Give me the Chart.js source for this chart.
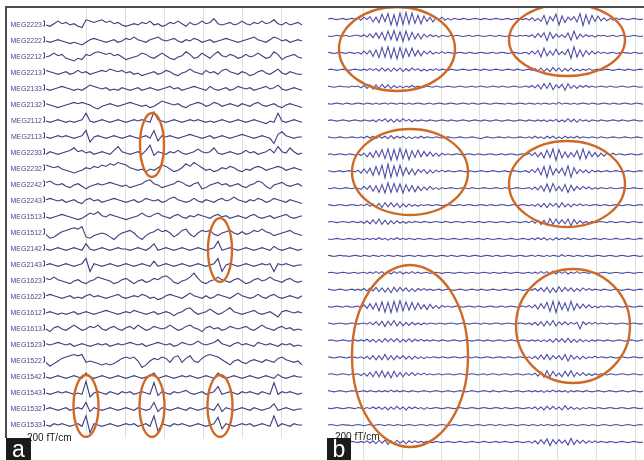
<!DOCTYPE html>
<html>
<head>
<meta charset="utf-8">
<script src="https://cdn.jsdelivr.net/npm/chart.js@4.4.1/dist/chart.umd.min.js"></script>
<style>
  body { margin: 0; background: #fff; }
  #wrap { position: relative; width: 644px; height: 460px; overflow: hidden; background: #fff; }
  #wrap canvas { position: absolute; }
  .rule { position: absolute; background: #4b4b4b; }
  .scaleTxt { position: absolute; font: 10px "Liberation Sans", Arial, sans-serif; color: #222; white-space: nowrap; z-index: 1; }
  .tag { position: absolute; background: #1b1b1b; color: #fff; font: 23px "Liberation Sans", Arial, sans-serif;
         text-align: center; line-height: 22px; z-index: 2; }
</style>
</head>
<body>
<div id="wrap">
  <canvas id="chartA" width="323" height="430" style="left:0;top:8px"></canvas>
  <canvas id="chartB" width="319" height="452" style="left:325px;top:8px"></canvas>
  <div class="rule" style="left:5px;top:6px;width:639px;height:2px"></div>
  <div class="rule" style="left:5px;top:6px;width:2px;height:432px"></div>
  <div class="scaleTxt" style="left:27px;top:432px">200 fT/cm</div>
  <div class="scaleTxt" style="left:335px;top:431px">200 fT/cm</div>
  <div class="tag" style="left:6px;top:438px;width:25px;height:22px">a</div>
  <div class="tag" style="left:327px;top:438px;width:24px;height:22px">b</div>
</div>
<script>
// panel a: interictal spikes, one value per 4 px, in px (up = positive)
var MEG2223 = [0,-1,1,3,1,2,0,1,-1,-2, 4,3,2,3,4,2,3,1,2,0, -1,0,1,0,2,1,3,0,1,-1, 0,2,1,3,1,-1,2,0,1,3, 1,2,5,1,0,1,2,0,1,3, 1,0,2,1,3,1,2,4,1,0, 2,0,1,2,0]
var MEG2222 = [0,-1,0,1,0,-1,-2,-1,-2,-3, -1,1,2,1,0,-1,0,1,-1,0, 2,1,3,1,0,-1,1,2,3,1, 0,1,2,0,-1,1,0,2,1,-1, 0,1,-1,0,1,2,1,0,-1,0, 1,2,3,1,0,-1,1,3,2,0, 1,-1,0,1,0]
var MEG2212 = [0,1,3,1,2,-1,-2,-3,-1,-2, 2,1,3,4,3,2,3,1,2,0, -2,-1,0,1,3,2,0,-1,1,3, 1,-1,-2,0,1,4,2,-1,0,3, 1,-1,2,4,1,0,2,1,-1,0, 2,0,1,3,1,-1,0,4,2,-2, 0,1,2,0,-1]
var MEG2213 = [2,1,0,-1,0,1,-1,0,2,0, 1,-1,0,1,2,1,3,2,1,2, 0,1,-1,0,-2,-1,0,1,-1,0, 2,1,-1,-2,0,1,3,1,0,-1, 2,0,1,-1,2,3,1,0,-1,1, 0,-2,-1,1,2,0,-1,1,3,0, -1,1,0,-1,-1]
var MEG2133 = [0,-1,0,1,2,1,0,-1,0,-1, 1,3,2,1,0,1,-1,0,-1,1, 0,-1,0,1,-1,0,1,0,-1,0, 1,2,0,1,-1,0,1,2,1,0, -1,2,0,-1,0,1,-1,0,2,1, 0,1,-1,0,1,2,0,1,3,0, -1,0,1,0,-1]
var MEG2132 = [1,0,-1,-2,-1,0,1,2,1,2, 1,0,-2,-3,-1,0,1,0,-1,0, 1,2,1,0,-1,0,-2,-1,1,3, 2,1,0,1,-1,-2,0,1,2,1, -1,0,2,1,-1,0,1,0,-1,1, 0,-1,1,2,0,-1,0,1,-1,-2, 0,1,0,-1,-2]
var MEG2112 = [0,-1,0,1,0,-1,0,-1,0,1, 6,0,-1,0,1,0,-1,0,1,0, -1,0,1,0,1,0,-1,7,1,0, -1,0,1,0,-1,0,1,0,1,0, -1,0,-1,0,1,0,-1,0,1,0, -1,0,1,0,-1,-2,0,-1,6,0, -1,0,1,0,-1]
var MEG2113 = [0,-1,0,1,0,1,0,-1,0,1, 5,-4,0,1,0,-1,0,1,0,-1, 0,1,0,-1,0,1,-1,5,-3,1, 0,1,0,-1,0,1,2,1,0,-1, 0,1,-1,0,1,0,-1,0,1,2, 1,0,-1,0,1,0,-1,-5,2,4, 1,0,-1,0,0]
var MEG2233 = [-1,1,0,-1,0,1,2,4,1,2, 0,1,-1,0,1,0,-1,2,5,1, 0,-1,0,1,-1,2,6,-2,1,0, -1,1,0,2,0,-1,0,1,3,1, 0,1,4,0,-1,0,1,0,-1,0, 2,0,1,-1,0,1,3,0,5,1, 0,4,1,-1,0]
var MEG2232 = [3,2,1,2,0,-1,-2,-3,-2,-1, 1,0,2,1,3,2,4,3,5,4, 3,1,0,-1,0,-2,0,-1,1,3, 2,0,-2,-1,1,4,2,5,3,1, -1,0,-2,-1,1,0,2,1,-1,-2, 0,-1,1,2,1,-1,0,1,2,1, -1,0,1,0,-1]
var MEG2242 = [2,3,1,0,1,-1,-2,0,1,-1, -3,-1,0,1,0,1,2,1,0,-1, 0,-2,-1,0,1,3,4,1,0,-2, -1,0,1,3,2,0,-1,1,2,-3, -2,0,1,2,0,1,-1,0,1,-1, -2,0,1,3,2,-1,-3,0,1,2, 0,-1,0,1,-1]
var MEG2243 = [1,2,1,0,1,-1,0,1,-1,-2, 1,2,0,1,-1,0,1,2,1,0, -1,0,1,-1,0,2,1,0,1,-1, 0,2,3,1,0,-1,0,2,0,-1, 1,0,-1,1,2,0,1,3,1,0, -1,1,0,2,1,-1,0,2,1,0, -1,1,0,-1,-2]
var MEG1513 = [0,-1,0,1,2,1,0,-1,-2,-1, 1,3,2,4,1,0,2,1,0,-1, -2,-1,0,1,3,1,0,2,3,1, 0,-1,1,2,0,-1,1,0,2,1, 0,-1,1,2,0,1,-1,0,1,0, -1,1,2,0,-1,0,1,-1,0,1, 2,0,-1,0,1]
var MEG1512 = [-1,-4,-3,-1,1,2,3,4,3,5, -3,-4,-2,-1,0,-1,-3,-5,-2,0, 1,2,0,-3,-5,-2,0,1,3,1, 2,0,-3,-1,2,3,-1,-3,0,2, 1,2,-1,-2,0,1,2,0,-1,1, -1,0,2,1,3,1,0,-2,-1,0, 1,2,0,-1,-2]
var MEG2142 = [0,-1,0,1,0,-1,0,1,0,-1, 4,0,-1,0,1,0,-1,0,1,0, 0,-1,0,1,0,-1,1,4,-1,0, 1,0,-1,0,1,0,-1,0,1,0, -1,0,1,6,-1,0,1,0,-1,0, 1,0,-1,0,1,0,-1,2,0,-1, 0,1,0,-1,0]
var MEG2143 = [0,1,0,-1,0,1,0,-1,0,1, 5,-5,1,0,-1,0,1,0,-1,0, 1,0,-1,0,1,0,-1,3,-1,0, 1,0,-1,0,1,0,-1,0,1,0, -1,0,1,5,-5,0,1,0,-1,0, 1,0,-1,0,1,0,1,-5,1,0, 1,0,-1,0,0]
var MEG1623 = [2,1,3,1,0,-1,-2,0,1,-1, -2,0,1,3,2,1,0,-2,-1,1, 2,0,-2,0,1,-1,0,2,1,3, 4,2,-1,-2,0,1,3,6,2,-1, -2,0,1,3,1,0,-1,1,2,0, -2,-1,1,2,0,1,3,1,0,-1, 1,2,0,-1,0]
var MEG1622 = [1,2,1,0,-1,0,1,-1,0,-1, 1,2,0,1,0,-1,0,1,2,0, -1,0,1,0,2,1,-1,0,-2,-1, 1,2,1,0,-1,1,3,1,0,-1, 1,-1,0,2,1,0,-1,1,3,1, 0,-1,0,2,0,-1,1,2,0,-1, 0,1,0,-1,1]
var MEG1612 = [0,1,0,-1,0,-1,0,1,-1,0, 1,0,-1,0,1,2,1,0,-1,0, 1,0,2,1,0,-1,0,1,-1,0, 1,0,-2,0,1,3,4,1,-1,0, 1,3,1,-1,0,2,4,1,0,-1, 0,1,2,0,-1,0,1,-1,-3,1, 2,1,0,1,0]
var MEG1613 = [0,-2,1,2,0,-1,1,3,1,-1, 0,2,1,3,0,-1,1,2,0,-1, 1,2,0,3,1,-1,0,2,1,0, 1,3,1,-1,0,2,3,1,0,-2, 1,2,0,1,-1,0,2,1,0,1, 2,0,-1,1,3,1,0,-1,1,2, 0,1,-1,0,-1]
var MEG1523 = [1,0,1,2,1,0,1,-1,0,1, 0,-1,0,1,0,1,-1,0,1,0, 1,2,1,0,1,-1,0,1,2,1, 0,1,-1,0,2,1,0,1,3,1, 0,1,2,4,1,0,-1,1,2,0, 1,0,-1,2,1,0,1,0,-1,1, 0,1,-1,0,-1]
var MEG1522 = [-1,-4,-2,0,2,3,4,5,4,5, -1,0,-1,-2,-3,-2,-3,-2,0,2, 3,2,3,0,-5,-3,0,2,1,3, 2,-1,3,4,-1,2,4,0,-1,2, 4,5,4,3,1,-1,-3,0,1,-1, -2,0,1,0,-1,1,0,-1,2,3, 1,0,-1,0,-3]
var MEG1542 = [0,-1,0,1,0,-1,0,1,0,-1, 3,0,-1,0,1,0,-1,0,1,0, -1,0,1,0,-1,0,1,3,-1,0, 1,0,-1,0,1,0,1,0,-1,0, 1,0,-1,3,0,-1,0,1,0,-1, 0,1,0,-1,0,1,0,-1,2,0, -1,0,1,0,0]
var MEG1543 = [0,-1,0,1,0,1,0,-1,0,-1, 9,-3,0,1,0,-1,1,0,-1,1, 0,1,-1,0,1,0,-1,8,-2,1, 0,-1,1,0,1,2,0,-1,0,1, -1,0,1,5,-1,0,1,0,-1,1, 0,1,0,-1,1,0,-1,8,-1,1, 0,1,0,-1,0]
var MEG1532 = [0,1,0,-1,0,1,-1,0,1,0, 5,-2,1,0,-1,0,1,0,-1,0, 1,0,-1,1,0,-1,0,5,-2,1, 0,-1,0,1,0,-1,1,0,-1,0, 1,0,-1,4,-2,1,0,-1,0,1, 0,-1,1,0,-1,0,1,4,-1,0, 1,0,-1,0,0]
var MEG1533 = [0,-1,1,0,1,0,-1,0,1,-1, 7,-6,1,0,-1,0,1,0,-1,0, 1,0,1,-1,0,1,-1,7,-5,1, 0,-1,1,0,1,0,-1,0,1,0, -1,0,1,6,-3,1,0,-1,0,1, 0,1,-1,0,1,0,-1,7,-1,1, 0,-1,1,0,0]

var channelsA = ['MEG2223','MEG2222','MEG2212','MEG2213','MEG2133','MEG2132','MEG2112','MEG2113',
  'MEG2233','MEG2232','MEG2242','MEG2243','MEG1513','MEG1512','MEG2142','MEG2143','MEG1623',
  'MEG1622','MEG1612','MEG1613','MEG1523','MEG1522','MEG1542','MEG1543','MEG1532','MEG1533']
var tracesA = [MEG2223,MEG2222,MEG2212,MEG2213,MEG2133,MEG2132,MEG2112,MEG2113,MEG2233,MEG2232,
  MEG2242,MEG2243,MEG1513,MEG1512,MEG2142,MEG2143,MEG1623,MEG1622,MEG1612,MEG1613,MEG1523,
  MEG1522,MEG1542,MEG1543,MEG1532,MEG1533]

// panel b: spindle bursts, one value per 3 px, in half px
var b01 = [0,1,0,-1,0,1,-1,0,1,0, 2,-2,3,-1,4,-5,3,-6,8,-4,9,-10,7,-11,10,-9,11,-8,10,-7,6,-8,5,-4,3,-5,2,-1,3,-2,1,-2,1, 0,-1,1,0,-1,0,1,0,-1,1,0,-1,0,1,0,-1,0,1,-1,0,1,0,-1, 1,-2,2,-3,1,-4,6,-9,4,-3,8,-10,5,-6,3,-2,4,-5,9,-11,7,-8,6,-4,5,-3,2,-3,1,-2,2,-1,1,0, -1,0,1,0,-1,0]
var b02 = [0,-1,0,1,0,0,1,-1,0,1, 1,-1,2,-2,3,-3,5,-4,6,-7,8,-6,9,-8,7,-9,8,-7,6,-5,4,-5,3,-2,2,-1,1,-2,1,0,-1,1,0, 1,0,-1,0,1,-1,0,1,0,-1,0,1,0,-1,1,0,-1,0,1,0,-1,1,0, 1,-1,2,-3,4,-2,5,-8,6,-4,3,-2,2,-3,5,-7,8,-5,3,-2,2,-1,1,-2,1,0,1,-1,0,1,-1,0,1,0, -1,0,1,0,-1,0]
var b03 = [1,0,-1,0,1,0,-1,1,0,-1, 1,-2,3,-2,4,-6,5,-8,9,-7,10,-9,8,-10,9,-8,7,-6,8,-5,4,-5,3,-2,3,-2,1,-1,2,-1,1,0,-1, 0,1,0,-1,1,0,-1,0,1,0,-1,0,1,-1,0,1,0,-1,0,1,0,-1,0, 1,-2,3,-2,4,-7,8,-5,3,-4,6,-3,2,-3,6,-9,10,-7,5,-6,4,-3,3,-2,2,-1,1,-1,0,1,-1,0,1,0, 0,-1,1,0,-1,0]
var b04 = [0,1,0,-1,0,1,0,-1,0,1, 0,-1,1,-1,2,-1,2,-2,3,-2,2,-3,3,-2,3,-3,2,-2,3,-1,2,-2,1,-2,1,-1,2,-1,1,0,-1,1,0, -1,0,1,0,-1,0,1,0,-1,1,0,-1,0,1,0,-1,0,1,0,-1,1,0,-1, 0,1,-1,2,-2,3,-3,2,-3,4,-2,3,-3,2,-2,3,-2,1,-2,1,-1,2,-1,0,1,-1,0,1,0,-1,0,1,0,-1, 1,0,-1,0,1,0]
var b05 = [1,0,-1,0,1,0,0,-1,1,0, 1,-2,2,-3,3,-4,3,-3,4,-2,3,-3,2,-2,1,-2,1,-1,2,-1,1,0,-1,1,0,-1,1,0,-1,0,1,0,-1, 0,1,0,-1,0,1,-1,0,1,0,-1,0,1,0,-1,1,0,-1,0,1,0,-1,0, 1,-1,2,-2,3,-4,5,-3,6,-5,3,-2,4,-6,5,-3,2,-3,2,-1,2,-1,1,-1,0,1,0,-1,1,0,-1,0,1,0, -1,0,1,0,-1,0]
var b06 = [0,-1,0,1,0,-1,1,0,-1,0, 1,0,-1,1,0,-1,1,-1,0,1,-1,1,0,-1,1,0,-1,1,-1,0,1,0,-1,0,1,-1,0,1,0,-1,0,1,0, -1,0,1,0,-1,1,0,-1,0,1,0,-1,0,1,0,0,-1,1,0,-1,0,1,0, -1,1,0,-1,1,-1,1,0,-1,1,-1,2,-1,1,0,-1,1,-1,0,1,0,-1,1,0,-1,0,1,0,-1,1,0,-1,0,1, 0,-1,0,1,0,-1]
var b07 = [0,1,0,-1,0,1,0,-1,0,1, 0,-1,1,0,-1,1,-2,2,-1,3,-2,2,-3,2,-2,3,-1,2,-2,1,-1,1,0,-1,1,0,-1,0,1,0,-1,1,0, -1,0,1,0,-1,0,1,0,-1,1,0,-1,0,1,0,-1,0,1,0,-1,0,1,0, -1,1,0,-1,1,-1,1,-2,1,-1,2,-2,1,-2,3,-2,2,-3,2,-1,1,-2,1,0,-1,1,0,-1,0,1,0,-1,1,0, -1,0,1,0,-1,0]
var b08 = [1,0,-1,0,1,0,-1,0,1,0, -1,1,-1,2,-1,2,-2,2,-1,2,-2,3,-2,2,-1,2,-2,1,-2,1,-1,2,-1,1,0,-1,1,0,-1,0,1,0,-1, 0,1,0,-1,0,1,0,-1,-2,0,1,0,-1,0,1,0,-1,1,0,-1,0,1,0, -1,1,-1,2,-1,1,-2,2,-1,2,-2,1,-2,2,-1,1,-1,2,-1,1,0,-1,1,0,-1,1,0,-1,0,1,0,-1,0,1, 0,-1,0,1,0,-1]
var b09 = [0,1,-1,0,1,0,-1,1,0,-1, 1,-2,2,-4,3,-5,6,-4,8,-7,9,-10,8,-9,10,-7,8,-9,6,-5,7,-4,5,-3,4,-3,2,-3,2,-1,1,-1,0, 1,0,-1,0,1,0,-1,1,0,-1,0,1,0,-1,0,1,-1,0,1,0,-1,0,1, -1,2,-2,3,-4,3,-6,7,-5,9,-10,8,-6,4,-5,3,-4,6,-8,9,-7,5,-4,3,-4,2,-3,2,-1,2,-1,1,0,-1, 0,1,0,-1,0,1]
var b10 = [1,0,-1,0,1,-1,0,1,0,-1, 2,-3,4,-3,5,-7,8,-6,10,-11,12,-10,9,-8,10,-7,6,-5,4,-6,3,-2,3,-4,2,-3,2,-1,2,-1,1,0,-1, 0,1,0,-1,1,0,-1,0,1,0,-1,0,1,0,-1,0,1,-1,0,1,0,-1,0, 1,-2,3,-2,5,-6,8,-10,9,-6,4,-3,5,-7,9,-10,6,-4,3,-2,2,-3,2,-1,1,-1,0,1,-1,0,1,0,-1,0, 1,0,-1,0,1,0]
var b11 = [0,-1,1,0,-1,0,1,0,-1,1, 0,-2,3,-2,4,-5,4,-7,6,-8,9,-7,8,-6,7,-8,6,-5,4,-6,3,-4,2,-3,3,-2,1,-2,1,-1,0,1,0, -1,0,1,0,-1,1,0,-1,0,1,0,-1,0,1,0,-1,1,0,-1,0,1,0,-1, 0,1,-2,2,-3,4,-5,7,-6,8,-4,3,-5,6,-7,5,-4,3,-2,3,-1,2,-2,1,-1,1,0,-1,1,0,-1,0,1,0, -1,0,1,0,-1,0]
var b12 = [1,0,-1,0,1,0,-1,0,1,0, -1,1,-1,2,-2,2,-3,3,-4,4,-3,4,-3,3,-4,2,-3,2,-2,1,-2,1,-1,1,0,-1,1,0,-1,0,1,0,-1, 0,1,-1,0,1,0,-1,0,1,0,-1,1,0,-1,0,1,0,-1,0,1,-1,0,1, 0,-1,1,-2,2,-3,3,-4,3,-2,3,-4,4,-3,2,-3,2,-1,2,-1,1,-1,0,1,0,-1,1,0,-1,0,1,0,-1,0, 1,0,-1,0,1,0]
var b13 = [0,1,0,-1,0,1,0,-1,1,0, -1,1,-2,2,-3,4,-3,5,-4,3,-4,2,-3,2,-2,1,-2,1,-1,1,0,-1,1,0,-1,0,1,0,-1,1,0,-1,0, 1,0,-1,0,1,0,-1,1,0,-1,0,1,0,-1,0,1,0,-1,0,1,0,-1,0, 1,-1,2,-2,3,-4,3,-5,6,-4,5,-3,4,-3,5,-6,4,-3,2,-2,1,-2,1,-1,0,1,0,-1,1,0,-1,0,1,0, -1,0,1,0,-1,0]
var b14 = [0,-1,0,1,0,-1,0,1,0,-1, 1,0,-1,1,-1,1,-1,2,-1,1,-2,1,-1,2,-1,1,-1,1,0,-1,1,0,-1,0,1,0,-1,0,1,0,-1,0,1, 0,-1,0,1,0,-1,0,1,0,-1,1,0,-1,0,1,0,-1,0,1,0,-1,0,1, 0,-1,1,-1,2,-1,2,-2,1,-2,2,-1,1,-1,2,-1,1,0,-1,1,0,-1,0,1,0,-1,1,0,-1,0,1,0,-1,0, 1,0,-1,0,1,0]
var b15 = [1,0,-1,0,1,0,0,-1,0,1, 0,-1,1,0,-1,1,0,-1,1,-1,1,0,-1,1,0,-1,0,1,0,-1,1,0,-1,0,1,0,-1,0,1,0,-1,1,0, -1,0,1,0,-1,0,1,0,-1,0,1,0,-1,1,0,-1,0,1,0,-1,0,1,0, -1,0,1,-1,1,0,-1,1,-1,1,0,-1,2,-1,1,0,-1,1,0,-1,1,0,-1,0,1,0,-1,0,1,0,-1,0,1,0, -1,0,1,0,-1,0]
var b16 = [0,1,0,-1,0,1,0,-1,0,1, -1,0,1,-1,1,-1,2,-1,2,-2,1,-2,2,-1,2,-2,1,-1,2,-1,1,-1,0,1,-1,0,1,0,-1,0,1,0,-1, 0,1,0,-1,0,1,0,-1,0,1,0,-1,1,0,-1,0,1,0,-1,0,1,0,-1, 0,1,-1,1,-1,2,-1,2,-2,3,-2,2,-1,2,-2,1,-1,2,-1,1,0,-1,1,0,-1,0,1,0,-1,0,1,0,-1,0, 1,0,-1,0,1,0]
var b17 = [1,0,-1,0,1,0,-1,0,1,-1, 1,-1,2,-2,3,-2,4,-3,3,-4,3,-5,4,-3,4,-2,3,-3,2,-3,2,-1,2,-1,1,-1,0,1,-1,0,1,0,-1, 0,1,0,-1,0,1,0,-1,1,0,-1,0,1,0,-1,0,1,0,-1,0,1,0,-1, 0,1,-1,2,-2,3,-3,4,-5,3,-4,5,-3,4,-2,3,-3,2,-2,3,-1,2,-1,1,0,-1,1,0,-1,0,1,0,-1,0, 1,0,-1,0,1,0]
var b18 = [0,-1,0,1,0,-1,1,0,-1,0, 1,-2,3,-3,5,-4,6,-7,8,-9,7,-10,9,-8,10,-7,8,-6,7,-5,6,-4,3,-5,4,-3,2,-3,2,-1,1,-1,0, 1,0,-1,0,1,0,-1,1,0,-1,0,1,0,-1,0,1,-1,0,1,0,-1,0,1, -1,2,-2,3,-4,5,-3,7,-8,9,-10,8,-5,6,-7,9,-6,5,-3,4,-2,3,-2,1,-2,1,-1,1,0,-1,1,0,-1,0, 1,0,-1,0,1,0]
var b19 = [1,0,-1,0,1,0,-1,0,1,0, -1,0,1,-1,2,-2,3,-3,4,-5,4,-3,5,-4,3,-4,2,-3,2,-2,1,-2,1,-1,1,0,-1,1,0,-1,0,1,0, -1,0,1,0,-1,0,1,0,-1,1,0,-1,0,1,0,-1,0,1,0,-1,0,1,0, -1,1,-2,2,-3,3,-4,4,-3,5,-4,3,-2,3,-2,2,-1,2,-9,3,-2,2,-1,2,-1,1,0,-1,1,0,-1,0,1,0, -1,0,1,0,-1,0]
var b20 = [0,1,0,-1,0,1,0,-1,0,1, -1,1,-1,2,-2,2,-3,2,-3,3,-2,3,-2,3,-3,2,-2,3,-2,2,-1,2,-1,1,-1,1,0,-1,1,0,-1,0,1, 0,-1,0,1,0,-1,0,1,0,-1,1,0,-1,0,1,0,-1,0,1,0,-1,0,1, 0,-1,1,-1,1,-2,1,-2,2,-3,3,-2,3,-3,4,-3,2,-3,2,-2,1,-2,1,-1,1,0,-1,1,0,-1,0,1,0,-1, 0,1,0,-1,0,1]
var b21 = [1,0,-1,0,1,0,-1,0,1,0, -1,1,-2,2,-3,3,-4,3,-4,5,-4,3,-4,3,-2,3,-3,2,-3,2,-2,1,-2,1,-1,1,0,-1,1,0,-1,0,1, 0,-1,0,1,0,-1,1,0,-1,0,1,0,-1,0,1,0,-1,1,0,-1,0,1,0, -1,1,-2,2,-3,4,-3,5,-4,3,-2,3,-4,5,-6,4,-3,2,-3,2,-2,1,-1,2,-1,1,0,-1,1,0,-1,0,1,0, -1,0,1,0,-1,0]
var b22 = [0,1,0,-1,0,1,0,-1,1,0, 1,-2,2,-3,3,-4,5,-4,6,-5,4,-6,5,-4,3,-4,3,-2,3,-2,2,-1,2,-1,1,-1,0,1,-1,0,1,0,-1, 0,1,0,-1,0,1,0,-1,0,1,-1,0,1,0,-1,0,1,0,-1,0,1,0,-1, 0,1,-1,2,-3,4,-5,6,-4,5,-3,2,-4,5,-3,6,-4,3,-2,3,-2,1,-2,1,-1,1,0,-1,1,0,-1,0,1,0, -1,0,1,0,-1,0]
var b23 = [1,0,-1,0,1,0,-1,0,1,0, -1,0,1,-1,1,0,-1,1,-1,1,-1,2,-1,1,-1,1,0,-1,1,0,-1,0,1,0,-1,0,1,0,-1,0,1,0,-1, 0,1,0,-1,0,1,0,-1,0,1,0,-1,1,0,-1,0,1,0,-1,0,1,0,-1, 0,1,-1,1,-1,1,-2,1,-1,2,-1,1,-1,1,-2,1,-1,1,0,-1,1,0,-1,0,1,0,-1,0,1,0,-1,0,1,0, -1,0,1,0,-1,0]
var b24 = [0,-1,0,1,0,-1,0,1,0,-1, 1,0,-1,1,-1,2,-1,2,-2,2,-3,2,-2,3,-2,2,-3,2,-1,2,-1,1,-2,1,-1,0,1,0,-1,0,1,0,-1, 0,1,0,-1,0,1,0,-1,0,1,0,-1,0,1,0,-1,1,0,-1,0,1,0,-1, 0,1,-1,2,-2,2,-3,3,-2,3,-2,2,-3,4,-2,2,-2,1,-2,1,-1,1,0,-1,1,0,-1,0,1,0,-1,0,1,0, -1,0,1,0,-1,0]
var b25 = [0,1,0,-1,0,1,0,0,-1,0, 1,0,-1,0,1,-1,0,1,0,-1,1,0,-1,1,0,-1,0,1,0,-1,0,1,0,-1,1,0,-1,0,1,0,-1,0,1, 0,-1,0,1,0,-1,0,1,0,-1,0,1,0,-1,1,0,-1,0,1,0,-1,0,1, 0,-1,1,0,-1,1,-1,1,0,-1,1,-1,1,0,-1,1,0,-1,0,1,0,-1,1,0,-1,0,1,0,-1,0,1,0,-1,0, 1,0,-1,0,1,0]
var b26 = [1,0,-1,0,1,0,-1,0,1,0, -1,1,-1,2,-2,2,-3,3,-2,3,-4,2,-3,3,-2,2,-3,2,-1,2,-1,1,-1,1,0,-1,1,0,-1,0,1,0,-1, 0,1,0,-1,0,1,0,-1,0,1,0,-1,0,1,-1,0,1,0,-1,0,1,0,-1, 0,1,-2,2,-3,4,-3,5,-6,4,-3,4,-2,3,-5,6,-4,3,-2,3,-2,2,-1,2,-1,1,0,-1,1,0,-1,0,1,0, -1,0,1,0,-1,0]

var tracesB = [b01,b02,b03,b04,b05,b06,b07,b08,b09,b10,b11,b12,b13,b14,b15,b16,b17,b18,b19,b20,b21,b22,b23,b24,b25,b26]

// layout (page px)
var rowA = i => 25 + 16 * i
var rowB = i => 19 + 16.92 * i
var gridA = [86, 125, 164, 203, 242, 281]
var gridB = [363, 402, 441, 479, 518, 557, 596, 635]

var ovalsA = [
  {cx: 152, cy: 145, rx: 12, ry: 32},
  {cx: 220, cy: 250, rx: 12, ry: 32},
  {cx: 86, cy: 406, rx: 12.5, ry: 31},
  {cx: 152, cy: 406, rx: 12.5, ry: 31},
  {cx: 220, cy: 406, rx: 12.5, ry: 31}
]
var ovalsB = [
  {cx: 397, cy: 49, rx: 58, ry: 42},
  {cx: 567, cy: 40, rx: 58, ry: 36},
  {cx: 410, cy: 172, rx: 58, ry: 43},
  {cx: 567, cy: 184, rx: 58, ry: 43},
  {cx: 410, cy: 356, rx: 58, ry: 91},
  {cx: 573, cy: 326, rx: 57, ry: 57}
]

function toPoints(vals, x0, step, base, gain) {
  return vals.map((v, k) => ({x: x0 + k * step, y: base - v * gain}))
}

var ovalPlugin = {
  id: 'ovals',
  afterDatasetsDraw(chart, args, opts) {
    var ctx = chart.ctx, xs = chart.scales.x, ys = chart.scales.y
    ctx.save()
    ctx.strokeStyle = '#cf6a26'
    ctx.lineWidth = 2.4
    opts.list.forEach(o => {
      var cx = xs.getPixelForValue(o.cx), cy = ys.getPixelForValue(o.cy)
      var rx = Math.abs(xs.getPixelForValue(o.cx + o.rx) - cx)
      var ry = Math.abs(ys.getPixelForValue(o.cy + o.ry) - cy)
      ctx.beginPath()
      ctx.ellipse(cx, cy, rx, ry, 0, 0, Math.PI * 2)
      ctx.stroke()
    })
    ctx.restore()
  }
}

// small amplitude bracket at the start of each trace in panel a
var bracketPlugin = {
  id: 'brackets',
  afterDatasetsDraw(chart) {
    if (!chart.options.plugins.brackets) return
    var ctx = chart.ctx, xs = chart.scales.x, ys = chart.scales.y
    ctx.save()
    ctx.strokeStyle = '#3d3d80'
    ctx.lineWidth = 1
    channelsA.forEach((c, i) => {
      var x = xs.getPixelForValue(44.5)
      var y0 = ys.getPixelForValue(rowA(i) - 4), y1 = ys.getPixelForValue(rowA(i) + 1)
      ctx.beginPath()
      ctx.moveTo(x - 1.5, y0); ctx.lineTo(x, y0); ctx.lineTo(x, y1); ctx.lineTo(x - 1.5, y1)
      ctx.stroke()
    })
    ctx.restore()
  }
}

function xAxis(min, max, grid, color) {
  return {
    type: 'linear', min: min, max: max,
    afterBuildTicks: s => { s.ticks = grid.map(v => ({value: v})) },
    ticks: {display: false},
    grid: {color: color, lineWidth: 1, drawTicks: false},
    border: {display: false}
  }
}

new Chart(document.getElementById('chartA'), {
  type: 'line',
  data: {
    datasets: tracesA.map((t, i) => ({
      label: channelsA[i],
      data: toPoints(t, 46, 4, rowA(i), 1.3),
      borderColor: '#3d3d80',
      borderWidth: 1.1,
      pointRadius: 0,
      tension: 0
    }))
  },
  options: {
    responsive: false,
    animation: false,
    devicePixelRatio: 1,
    layout: {padding: 0},
    scales: {
      x: xAxis(45, 323, gridA, '#d6e4da'),
      y: {
        type: 'linear', min: 8, max: 438, reverse: true,
        afterBuildTicks: s => { s.ticks = channelsA.map((c, i) => ({value: rowA(i)})) },
        afterFit: s => { s.width = 45; s.paddingTop = 0; s.paddingBottom = 0 },
        ticks: {
          callback: (v, i) => channelsA[i],
          font: {family: 'Liberation Sans', size: 7},
          color: '#4a4a8c',
          padding: 3
        },
        grid: {display: false, drawTicks: false},
        border: {display: false}
      }
    },
    plugins: {
      legend: {display: false},
      tooltip: {enabled: false},
      ovals: {list: ovalsA},
      brackets: true
    }
  },
  plugins: [ovalPlugin, bracketPlugin]
})

new Chart(document.getElementById('chartB'), {
  type: 'line',
  data: {
    datasets: tracesB.map((t, i) => ({
      label: 'row ' + (i + 1),
      data: toPoints(t, 328, 3, rowB(i), 0.6),
      borderColor: '#4d4da6',
      borderWidth: 1.1,
      pointRadius: 0,
      tension: 0
    }))
  },
  options: {
    responsive: false,
    animation: false,
    devicePixelRatio: 1,
    layout: {padding: 0},
    scales: {
      x: xAxis(325, 644, gridB, '#d6e4da'),
      y: {type: 'linear', min: 8, max: 460, reverse: true, display: false}
    },
    plugins: {
      legend: {display: false},
      tooltip: {enabled: false},
      ovals: {list: ovalsB},
      brackets: false
    }
  },
  plugins: [ovalPlugin, bracketPlugin]
})
</script>
</body>
</html>
